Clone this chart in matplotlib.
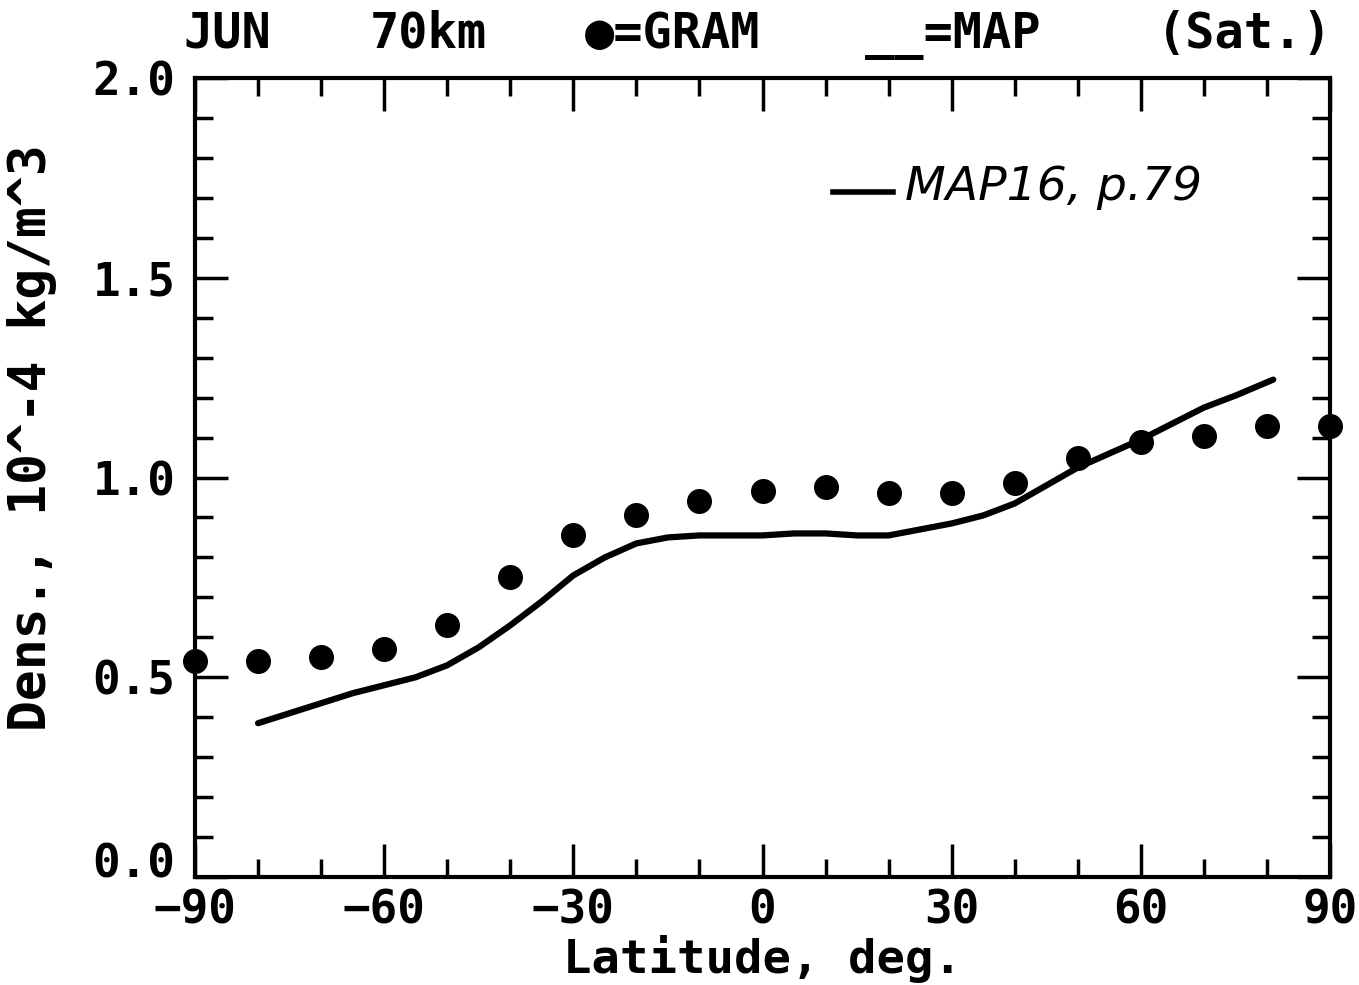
import matplotlib.pyplot as plt
from matplotlib.ticker import MultipleLocator, FixedLocator

# GRAM density, 10^-4 kg/m^3, every 10 deg latitude
gram_lat = [-90, -80, -70, -60, -50, -40, -30, -20, -10, 0, 10, 20, 30, 40, 50, 60, 70, 80, 90]
gram_dens = [0.54, 0.54, 0.55, 0.57, 0.63, 0.75, 0.855, 0.905, 0.94, 0.965, 0.975,
             0.96, 0.96, 0.985, 1.05, 1.09, 1.105, 1.13, 1.13]

# MAP (satellite) curve
map_lat = [-80, -75, -70, -65, -60, -55, -50, -45, -40, -35, -30, -25, -20, -15, -10,
           -5, 0, 5, 10, 15, 20, 25, 30, 35, 40, 45, 50, 55, 60, 65, 70, 75, 81]
map_dens = [0.385, 0.41, 0.435, 0.46, 0.48, 0.50, 0.53, 0.575, 0.63, 0.69, 0.755, 0.80,
            0.835, 0.85, 0.855, 0.855, 0.855, 0.86, 0.86, 0.855, 0.855, 0.87, 0.885,
            0.905, 0.935, 0.98, 1.025, 1.06, 1.095, 1.135, 1.175, 1.205, 1.245]

y_major = [0.0, 0.5, 1.0, 1.5, 2.0]
title_parts = ['JUN', '70km', '\u25cf=GRAM', '__=MAP', '(Sat.)']
title_x = [183, 370, 585, 865, 1332]   # pixel anchors of the pieces (last one right-aligned)

mono = 'DejaVu Sans Mono'
W, H = 1359, 985

fig = plt.figure(figsize=(W / 100, H / 100), dpi=100)
ax = fig.add_axes([195 / W, 1 - 877 / H, (1330 - 195) / W, (877 - 78) / H])

ax.plot(map_lat, map_dens, color='black', lw=4.5, solid_capstyle='round', zorder=3)
ax.plot(gram_lat, gram_dens, 'o', color='black', ms=17, clip_on=False, zorder=4)

ax.set_xlim(-90, 90)
ax.set_ylim(0, 2.0)
ax.xaxis.set_major_locator(MultipleLocator(30))
ax.xaxis.set_minor_locator(MultipleLocator(10))
ax.yaxis.set_major_locator(FixedLocator(y_major))
ax.yaxis.set_minor_locator(MultipleLocator(0.1))
ax.yaxis.set_major_formatter(lambda v, p: f'{v:.1f}')

ax.tick_params(which='both', direction='in', top=True, right=True, width=2.5,
               color='black', labelsize=33)
ax.tick_params(axis='y', pad=14)
ax.tick_params(axis='x', pad=8)
ax.tick_params(which='major', length=24)
ax.tick_params(which='minor', length=13)
for sp in ax.spines.values():
    sp.set_linewidth(3)

ax.set_xlabel('Latitude, deg.', fontfamily=mono, fontweight='bold', fontsize=34)
ax.set_ylabel('Dens., 10^-4 kg/m^3', fontfamily=mono, fontweight='bold', fontsize=37)
ax.yaxis.set_label_coords(-0.122, 0.55)
ax.xaxis.set_label_coords(0.5, -0.072)

for i, (txt, px) in enumerate(zip(title_parts, title_x)):
    fig.text(px / W, 1 - 48 / H, txt, fontfamily=mono, fontweight='bold',
             fontsize=35, ha='right' if i == len(title_parts) - 1 else 'left',
             va='baseline')

# handwritten note
fig.lines.append(plt.Line2D([833 / W, 893 / W], [1 - 192 / H, 1 - 192 / H],
                            color='black', lw=4, transform=fig.transFigure))
fig.text(905 / W, 1 - 200 / H, 'MAP16, p.79', fontfamily='DejaVu Sans',
         style='italic', fontsize=34, ha='left', va='baseline')

fig.canvas.draw()
for lab in ax.get_xticklabels() + ax.get_yticklabels():
    lab.set_fontfamily(mono)
    lab.set_fontweight('bold')
# the 0.0 label sits just above the bottom axis in the original
ax.yaxis.get_major_ticks()[0].label1.set_verticalalignment('baseline')

fig.savefig('out.png', dpi=100)
